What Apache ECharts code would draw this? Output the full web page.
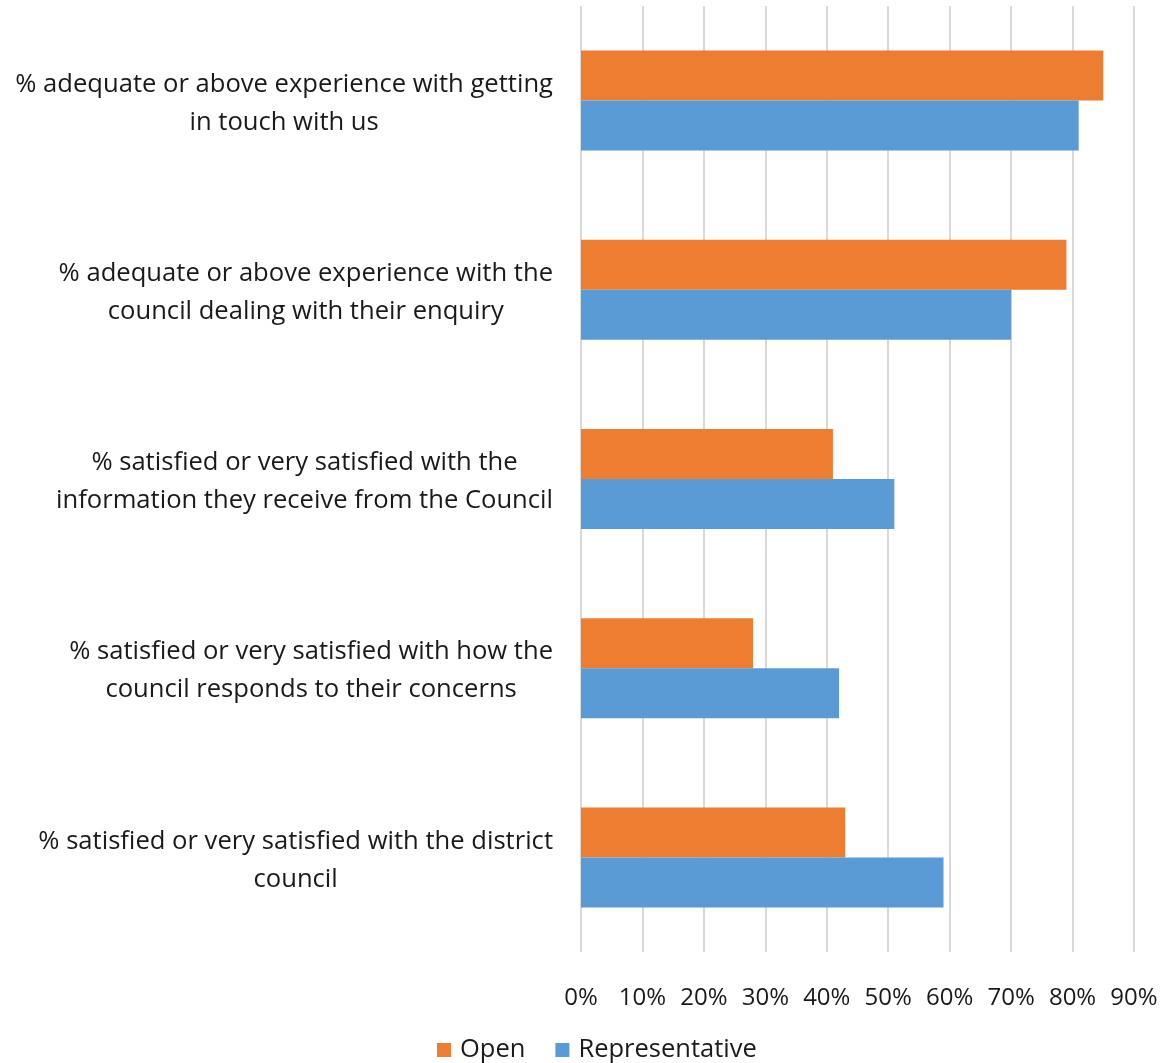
<!DOCTYPE html>
<html>
<head>
<meta charset="utf-8">
<script src="https://cdn.jsdelivr.net/npm/echarts@6/dist/echarts.min.js"></script>
<style>
  html, body { margin: 0; padding: 0; background: #fff; }
  #chart { width: 1163px; height: 1063px; }
</style>
</head>
<body>
<div id="chart"></div>
<script>
// Survey measures, top to bottom (line breaks as wrapped in the label column)
const categories = [
  '% adequate or above experience with getting\nin touch with us',
  '% adequate or above experience with the\ncouncil dealing with their enquiry',
  '% satisfied or very satisfied with the\ninformation they receive from the Council',
  '% satisfied or very satisfied with how the\ncouncil responds to their concerns',
  '% satisfied or very satisfied with the district\ncouncil'
];
// Percentages per sample type
const openValues = [85, 79, 41, 28, 43];
const representativeValues = [81, 70, 51, 42, 59];
const seriesNames = ['Open', 'Representative'];

const FONT = '"Open Sans", sans-serif';
const TEXT = '#1a1a1a';
const chart = echarts.init(document.getElementById('chart'));

chart.setOption({
  animation: false,
  textStyle: { fontFamily: FONT },
  color: ['#ED7D31', '#5B9BD5'],
  grid: { left: 581, right: 29, top: 6, bottom: 111, containLabel: false },
  legend: {
    data: seriesNames,
    left: 437,
    top: 1037,
    padding: 0,
    icon: 'rect',
    itemWidth: 14,
    itemHeight: 14,
    itemGap: 30,
    textStyle: { fontSize: 25.5, color: TEXT, fontFamily: FONT, padding: [0, 0, 0, 4] }
  },
  xAxis: {
    type: 'value',
    min: 0,
    max: 90,
    interval: 10,
    axisLine: { show: false },
    axisTick: { show: false },
    splitLine: { show: true, lineStyle: { color: '#d9d9d9', width: 2 } },
    axisLabel: {
      formatter: '{value}%',
      fontSize: 24,
      color: TEXT,
      margin: 34,
      fontFamily: FONT
    }
  },
  yAxis: {
    type: 'category',
    data: categories,
    inverse: true,
    axisLine: { show: false },
    axisTick: { show: false },
    axisLabel: {
      align: 'right',
      margin: 28,
      padding: [6, 0, 0, 0],
      formatter: function (v) {
        // each wrapped line is centred within the label block
        return v.split('\n').map(function (line) { return '{c|' + line + '}'; }).join('\n');
      },
      rich: {
        c: {
          align: 'center',
          fontSize: 25.6,
          lineHeight: 38,
          color: TEXT,
          fontFamily: FONT
        }
      }
    }
  },
  series: [
    {
      name: seriesNames[0],
      type: 'bar',
      data: openValues,
      barWidth: 50,
      barGap: '0%'
    },
    {
      name: seriesNames[1],
      type: 'bar',
      data: representativeValues,
      barWidth: 50,
      barGap: '0%'
    }
  ]
});
</script>
</body>
</html>
